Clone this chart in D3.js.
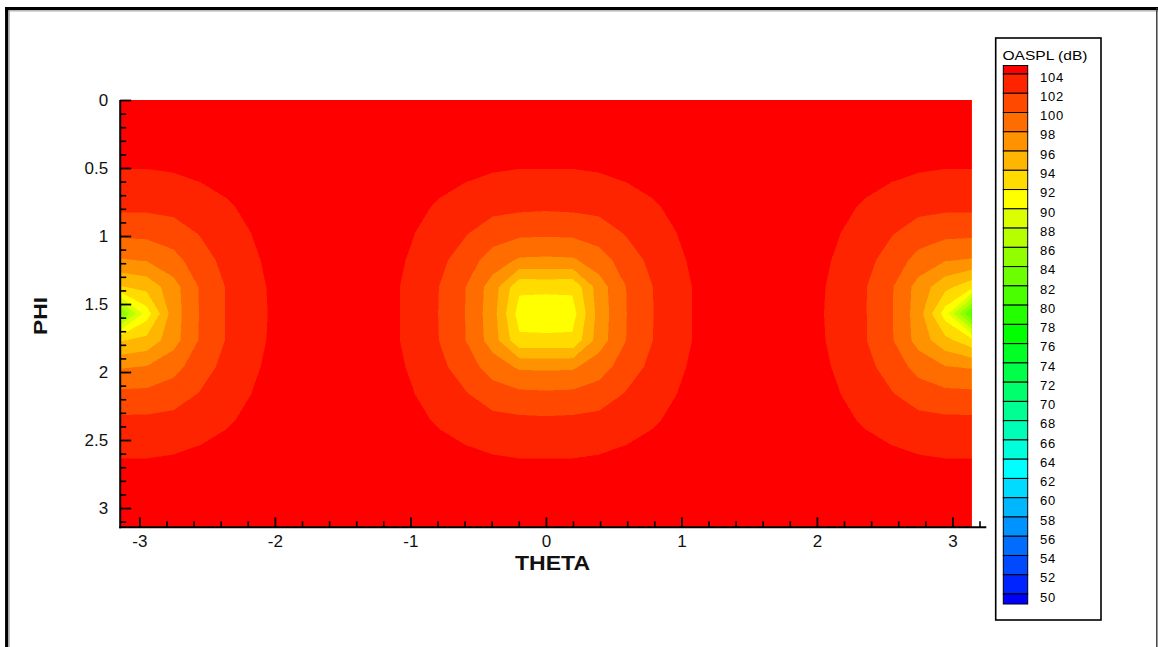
<!DOCTYPE html>
<html>
<head>
<meta charset="utf-8">
<script src="https://cdn.jsdelivr.net/npm/d3@7"></script>
<style>
  html, body { margin: 0; padding: 0; background: #ffffff; }
  svg { display: block; font-family: "Liberation Sans", Arial, sans-serif; }
</style>
</head>
<body>
<svg id="chart" width="1158" height="647"></svg>
<script>
// OASPL (dB) on a regular THETA x PHI grid.
// Columns: THETA from -pi to pi (33 nodes), rows: PHI from 0 to pi (17 nodes).
const thetaStart = -Math.PI, thetaEnd = Math.PI;
const phiStart = 0, phiEnd = Math.PI;

const oasplGrid = [
  [105.0,105.0,105.0,105.0,105.0,105.0,105.0,105.0,105.0,105.0,105.0,105.0,105.0,105.0,105.0,105.0,105.0,105.0,105.0,105.0,105.0,105.0,105.0,105.0,105.0,105.0,105.0,105.0,105.0,105.0,105.0,105.0,105.0],
  [104.8,104.8,104.85,104.9,104.9,105.0,105.0,105.0,105.0,105.0,105.0,105.0,104.9,104.9,104.85,104.8,104.8,104.8,104.85,104.9,104.9,105.0,105.0,105.0,105.0,105.0,105.0,105.0,104.9,104.9,104.85,104.8,104.8],
  [104.4,104.4,104.5,104.6,104.7,104.8,104.9,105.0,105.0,105.0,104.9,104.8,104.7,104.6,104.5,104.4,104.4,104.4,104.5,104.6,104.7,104.8,104.9,105.0,105.0,105.0,104.9,104.8,104.7,104.6,104.5,104.4,104.4],
  [103.7,103.7,103.8,104.05,104.4,104.6,104.8,105.0,105.0,105.0,104.8,104.6,104.4,104.05,103.8,103.7,103.7,103.7,103.8,104.05,104.4,104.6,104.8,105.0,105.0,105.0,104.8,104.6,104.4,104.05,103.8,103.7,103.7],
  [102.4,102.4,102.6,103.2,103.8,104.4,104.7,104.9,105.0,104.9,104.7,104.4,103.8,103.2,102.6,102.4,102.3,102.4,102.6,103.2,103.8,104.4,104.7,104.9,105.0,104.9,104.7,104.4,103.8,103.2,102.6,102.4,102.4],
  [100.4,100.5,101.0,102.1,103.2,104.05,104.6,104.9,105.0,104.9,104.6,104.05,103.15,102.1,100.9,100.4,100.3,100.4,100.9,102.1,103.15,104.05,104.6,104.9,105.0,104.9,104.6,104.05,103.2,102.1,101.0,100.5,100.4],
  [97.8,98.1,99.3,101.1,102.6,103.8,104.5,104.85,105.0,104.85,104.5,103.8,102.5,100.9,99.1,97.7,97.6,97.7,99.1,100.9,102.5,103.8,104.5,104.85,105.0,104.85,104.5,103.8,102.6,101.1,99.3,98.1,97.8],
  [93.8,94.6,97.2,100.15,102.1,103.55,104.45,104.8,105.0,104.8,104.4,103.6,101.95,99.95,97.0,92.4,92.5,92.4,97.0,99.95,101.95,103.6,104.4,104.8,105.0,104.8,104.45,103.55,102.1,100.15,97.2,94.6,92.6],
  [83.5,91.0,97.0,100.1,102.1,103.5,104.4,104.8,105.0,104.8,104.4,103.6,101.9,99.9,96.8,91.1,90.6,91.1,96.8,99.9,101.9,103.6,104.4,104.8,105.0,104.8,104.4,103.5,102.1,100.1,97.0,91.0,81.5],
  [93.8,94.6,97.2,100.15,102.1,103.55,104.45,104.8,105.0,104.8,104.4,103.6,101.95,99.95,97.0,92.4,92.5,92.4,97.0,99.95,101.95,103.6,104.4,104.8,105.0,104.8,104.45,103.55,102.1,100.15,97.2,94.6,92.6],
  [97.8,98.1,99.3,101.1,102.6,103.8,104.5,104.85,105.0,104.85,104.5,103.8,102.5,100.9,99.1,97.7,97.6,97.7,99.1,100.9,102.5,103.8,104.5,104.85,105.0,104.85,104.5,103.8,102.6,101.1,99.3,98.1,97.8],
  [100.4,100.5,101.0,102.1,103.2,104.05,104.6,104.9,105.0,104.9,104.6,104.05,103.15,102.1,100.9,100.4,100.3,100.4,100.9,102.1,103.15,104.05,104.6,104.9,105.0,104.9,104.6,104.05,103.2,102.1,101.0,100.5,100.4],
  [102.4,102.4,102.6,103.2,103.8,104.4,104.7,104.9,105.0,104.9,104.7,104.4,103.8,103.2,102.6,102.4,102.3,102.4,102.6,103.2,103.8,104.4,104.7,104.9,105.0,104.9,104.7,104.4,103.8,103.2,102.6,102.4,102.4],
  [103.7,103.7,103.8,104.05,104.4,104.6,104.8,105.0,105.0,105.0,104.8,104.6,104.4,104.05,103.8,103.7,103.7,103.7,103.8,104.05,104.4,104.6,104.8,105.0,105.0,105.0,104.8,104.6,104.4,104.05,103.8,103.7,103.7],
  [104.4,104.4,104.5,104.6,104.7,104.8,104.9,105.0,105.0,105.0,104.9,104.8,104.7,104.6,104.5,104.4,104.4,104.4,104.5,104.6,104.7,104.8,104.9,105.0,105.0,105.0,104.9,104.8,104.7,104.6,104.5,104.4,104.4],
  [104.8,104.8,104.85,104.9,104.9,105.0,105.0,105.0,105.0,105.0,105.0,105.0,104.9,104.9,104.85,104.8,104.8,104.8,104.85,104.9,104.9,105.0,105.0,105.0,105.0,105.0,105.0,105.0,104.9,104.9,104.85,104.8,104.8],
  [105.0,105.0,105.0,105.0,105.0,105.0,105.0,105.0,105.0,105.0,105.0,105.0,105.0,105.0,105.0,105.0,105.0,105.0,105.0,105.0,105.0,105.0,105.0,105.0,105.0,105.0,105.0,105.0,105.0,105.0,105.0,105.0,105.0]
];

// Contour levels shown in the legend (top to bottom)
const legendLevels = [104, 102, 100, 98, 96, 94, 92, 90, 88, 86, 84, 82, 80, 78, 76, 74, 72, 70, 68, 66, 64, 62, 60, 58, 56, 54, 52, 50];
const legendTitle = "OASPL (dB)";

const xTickLabels = [-3, -2, -1, 0, 1, 2, 3];
const yTickLabels = [0, 0.5, 1, 1.5, 2, 2.5, 3];
const xTitle = "THETA";
const yTitle = "PHI";

// ---------------------------------------------------------------
const svg = d3.select("#chart");

const x = d3.scaleLinear().domain([-Math.PI, Math.PI]).range([120.2, 971.6]);
const y = d3.scaleLinear().domain([0, Math.PI]).range([100, 527.3]);

// Rainbow flood colours: band index 0 (< 50) ... 28 (>= 104)
const bandColor = d3.scaleLinear()
  .domain([0, 7, 14, 21, 28])
  .range(["#0000ff", "#00ffff", "#00ff00", "#ffff00", "#ff0000"])
  .interpolate(d3.interpolateRgb);
const levelsAsc = legendLevels.slice().sort((a, b) => a - b);
const levelColor = v => bandColor((v - levelsAsc[0]) / 2 + 1);

// Outer frame
svg.append("line").attr("x1", 6.7).attr("y1", 8.7).attr("x2", 6.7).attr("y2", 660)
  .attr("stroke", "#000").attr("stroke-width", 3.3);
svg.append("line").attr("x1", 5).attr("y1", 8.7).attr("x2", 1158).attr("y2", 8.7)
  .attr("stroke", "#000").attr("stroke-width", 3.3);
svg.append("line").attr("x1", 9.3).attr("y1", 11).attr("x2", 9.3).attr("y2", 660)
  .attr("stroke", "#b0b0b0").attr("stroke-width", 1);
svg.append("line").attr("x1", 9).attr("y1", 11).attr("x2", 1158).attr("y2", 11)
  .attr("stroke", "#b0b0b0").attr("stroke-width", 1);
svg.append("line").attr("x1", 1156.8).attr("y1", 8).attr("x2", 1156.8).attr("y2", 660)
  .attr("stroke", "#333").attr("stroke-width", 1.4);

// Flooded contour bands
const nx = oasplGrid[0].length, ny = oasplGrid.length;
const dTheta = (thetaEnd - thetaStart) / (nx - 1);
const dPhi = (phiEnd - phiStart) / (ny - 1);
const contours = d3.contours().size([nx, ny]).thresholds(levelsAsc)(oasplGrid.flat());

const gridProjection = d3.geoTransform({
  point(px, py) {
    this.stream.point(x(thetaStart + (px - 0.5) * dTheta), y(phiStart + (py - 0.5) * dPhi));
  }
});
const contourPath = d3.geoPath(gridProjection);

svg.append("clipPath").attr("id", "plot-clip")
  .append("rect")
  .attr("x", x(thetaStart)).attr("y", y(phiStart))
  .attr("width", x(thetaEnd) - x(thetaStart)).attr("height", y(phiEnd) - y(phiStart));

const flood = svg.append("g").attr("clip-path", "url(#plot-clip)");
flood.append("rect")
  .attr("x", x(thetaStart)).attr("y", y(phiStart))
  .attr("width", x(thetaEnd) - x(thetaStart)).attr("height", y(phiEnd) - y(phiStart))
  .attr("fill", bandColor(0));
flood.selectAll("path.band")
  .data(contours.filter(c => c.coordinates.length))
  .join("path")
  .attr("class", "band")
  .attr("d", contourPath)
  .attr("fill", d => levelColor(d.value))
  .attr("stroke", d => levelColor(d.value))
  .attr("stroke-width", 0.5)
  .attr("shape-rendering", "crispEdges");

// Axes
const axisStroke = "#000";
const tickFont = "17px";

// X axis (ticks point into the plot)
const xAxisY = y(phiEnd);
const xMinor = d3.range(-15, 17).map(i => +(i * 0.2).toFixed(1)).filter(v => !Number.isInteger(v));
const yMinor = d3.range(0, 32).map(i => +(i * 0.1).toFixed(1)).filter(v => Math.abs(v * 2 - Math.round(v * 2)) > 1e-9);

const gx = svg.append("g").attr("transform", `translate(0,${xAxisY})`);
gx.append("g").call(d3.axisBottom(x).tickValues(xMinor).tickSizeInner(-6).tickSizeOuter(0).tickFormat(""))
  .call(g => g.select(".domain").remove())
  .call(g => g.selectAll("line").attr("stroke", axisStroke).attr("stroke-width", 1.6));
gx.append("g").call(d3.axisBottom(x).tickValues(xTickLabels).tickSizeInner(-10).tickSizeOuter(0)
    .tickPadding(8).tickFormat(d => String(d)))
  .call(g => g.select(".domain").remove())
  .call(g => g.selectAll("line").attr("stroke", axisStroke).attr("stroke-width", 1.8))
  .call(g => g.selectAll("text").attr("fill", "#111").style("font-size", tickFont)
    .style("font-family", "'Liberation Sans', Arial, sans-serif"));
gx.append("line").attr("x1", x(thetaStart) - 1).attr("x2", x(3.25)).attr("y1", 0).attr("y2", 0)
  .attr("stroke", axisStroke).attr("stroke-width", 2);

// Y axis
const yAxisX = x(thetaStart);
const gy = svg.append("g").attr("transform", `translate(${yAxisX},0)`);
gy.append("g").call(d3.axisLeft(y).tickValues(yMinor).tickSizeInner(-6).tickSizeOuter(0).tickFormat(""))
  .call(g => g.select(".domain").remove())
  .call(g => g.selectAll("line").attr("stroke", axisStroke).attr("stroke-width", 1.6));
gy.append("g").call(d3.axisLeft(y).tickValues(yTickLabels).tickSizeInner(-11).tickSizeOuter(0)
    .tickPadding(12).tickFormat(d => String(d)))
  .call(g => g.select(".domain").remove())
  .call(g => g.selectAll("line").attr("stroke", axisStroke).attr("stroke-width", 1.8))
  .call(g => g.selectAll("text").attr("fill", "#111").style("font-size", tickFont)
    .style("font-family", "'Liberation Sans', Arial, sans-serif"));
gy.append("line").attr("x1", 0).attr("x2", 0).attr("y1", y(phiStart)).attr("y2", y(phiEnd) + 1)
  .attr("stroke", axisStroke).attr("stroke-width", 2);

// Axis titles
svg.append("text")
  .attr("x", 552.5).attr("y", 569.5)
  .attr("text-anchor", "middle")
  .attr("font-weight", "bold").attr("font-size", 21)
  .attr("textLength", 75).attr("lengthAdjust", "spacingAndGlyphs")
  .attr("fill", "#111")
  .text(xTitle);
svg.append("text")
  .attr("transform", "translate(46.5,316) rotate(-90)")
  .attr("text-anchor", "middle")
  .attr("font-weight", "bold").attr("font-size", 19)
  .attr("textLength", 38).attr("lengthAdjust", "spacingAndGlyphs")
  .attr("fill", "#111")
  .text(yTitle);

// Legend
const legend = svg.append("g");
legend.append("rect")
  .attr("x", 995.7).attr("y", 38).attr("width", 105.3).attr("height", 582)
  .attr("fill", "#fff").attr("stroke", "#000").attr("stroke-width", 1.6);
legend.append("text")
  .attr("x", 1002.5).attr("y", 59.5)
  .attr("font-size", 12)
  .attr("textLength", 85).attr("lengthAdjust", "spacingAndGlyphs")
  .attr("fill", "#000")
  .text(legendTitle);

const legendY = d3.scaleLinear()
  .domain([legendLevels[0], legendLevels[legendLevels.length - 1]])
  .range([74, 594]);
const swatchX = 1003.3, swatchW = 24.4;

// band above the highest level
legend.append("rect")
  .attr("x", swatchX).attr("y", 65.5).attr("width", swatchW).attr("height", legendY(legendLevels[0]) - 65.5)
  .attr("fill", levelColor(legendLevels[0])).attr("stroke", "#000").attr("stroke-width", 1);
// bands between consecutive levels
legend.selectAll("rect.swatch")
  .data(legendLevels.slice(1))
  .join("rect")
  .attr("class", "swatch")
  .attr("x", swatchX)
  .attr("y", v => legendY(v + 2))
  .attr("width", swatchW)
  .attr("height", v => legendY(v) - legendY(v + 2))
  .attr("fill", v => levelColor(v))
  .attr("stroke", "#000").attr("stroke-width", 1);
// band below the lowest level
legend.append("rect")
  .attr("x", swatchX).attr("y", legendY(legendLevels[legendLevels.length - 1]))
  .attr("width", swatchW).attr("height", 604 - legendY(legendLevels[legendLevels.length - 1]))
  .attr("fill", bandColor(0)).attr("stroke", "#000").attr("stroke-width", 1);

legend.selectAll("text.level")
  .data(legendLevels)
  .join("text")
  .attr("class", "level")
  .attr("x", 1040)
  .attr("y", v => legendY(v) + 7.7)
  .attr("font-size", 13)
  .attr("letter-spacing", 0.8)
  .attr("fill", "#000")
  .text(v => String(v));
</script>
</body>
</html>
